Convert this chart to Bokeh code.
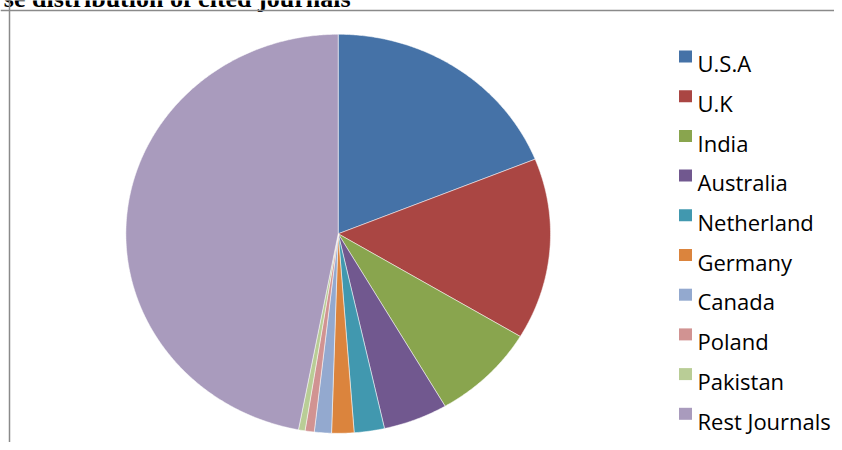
import numpy as np
from bokeh.plotting import figure
from bokeh.models import Range1d, Span
from bokeh.embed import file_html
from bokeh.resources import INLINE
from bokeh.core.properties import value

# ---- data ----
title_text = "se distribution of cited journals"
countries = ["U.S.A", "U.K", "India", "Australia", "Netherland",
             "Germany", "Canada", "Poland", "Pakistan", "Rest Journals"]
shares = [18.9, 14.7, 8.0, 4.9, 2.3, 1.7, 1.3, 0.7, 0.5, 47.0]
colors = ["#4572A7", "#AA4643", "#89A54E", "#71588F", "#4198AF",
          "#DB843D", "#93A9CF", "#D19392", "#B9CD96", "#A99BBD"]

# ---- layout (picture pixel coordinates) ----
CX, CY, RX, RY = 337.7, 233.3, 212.3, 199.5
LEG_SQ_X, LEG_SQ_Y0, LEG_TXT_X, LEG_TXT_Y0, LEG_STEP = 685.0, 56.0, 697.0, 62.7, 39.7

p = figure(width=834, height=442, output_backend="svg", toolbar_location=None,
           x_range=Range1d(0, 834), y_range=Range1d(442, 0),
           x_axis_type=None, y_axis_type=None, min_border=0)
p.outline_line_color = None
p.xgrid.visible = False
p.ygrid.visible = False
p.background_fill_color = "white"
p.border_fill_color = "white"

# frame border
p.add_layout(Span(location=10, dimension="width", line_color="#8a8a8a", line_width=1.5))
p.add_layout(Span(location=9, dimension="height", line_color="#8a8a8a", line_width=1.5))

# pie slices (elliptical, clockwise from 12 o'clock)
frac = np.array(shares, dtype=float) / sum(shares)
ends = np.cumsum(frac) * 2 * np.pi
starts = ends - frac * 2 * np.pi
xs, ys = [], []
for a0, a1 in zip(starts, ends):
    n = max(int((a1 - a0) / (2 * np.pi) * 720), 4)
    t = np.linspace(a0, a1, n)
    xs.append([CX] + list(CX + RX * np.sin(t)) + [CX])
    ys.append([CY] + list(CY - RY * np.cos(t)) + [CY])
p.patches(xs, ys, fill_color=colors, line_color="white", line_width=0.5)

# legend
k = np.arange(len(countries))
p.rect(x=[LEG_SQ_X] * len(countries), y=list(LEG_SQ_Y0 + LEG_STEP * k),
       width=13, height=12, fill_color=colors, line_color=None)
p.text(x=[LEG_TXT_X] * len(countries), y=list(LEG_TXT_Y0 + LEG_STEP * k),
       text=countries, text_font=value("Open Sans"), text_font_size="22px",
       text_baseline="alphabetic", text_align="left", text_color="#000000")

# cropped title (cut at the top edge, as in the reference)
p.text(x=[350], y=[-2.5], text=[title_text], text_font=value("Liberation Serif"),
       text_font_style="bold", text_font_size="26px",
       text_baseline="alphabetic", text_align="right", text_color="#000000")

open("out.html", "w").write(file_html(p, INLINE))
